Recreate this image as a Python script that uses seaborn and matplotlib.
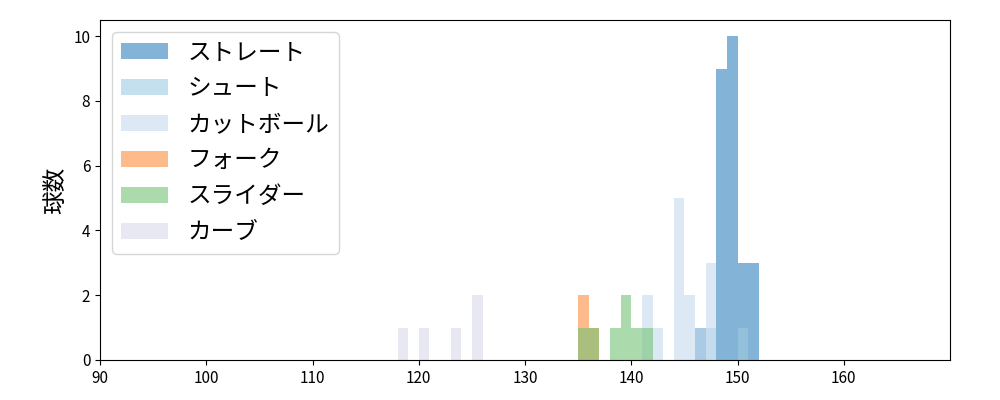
import numpy as np
import seaborn as sns
import matplotlib.pyplot as plt
from matplotlib.patches import Patch

plt.rcParams["font.family"] = ["Noto Sans CJK JP", "DejaVu Sans"]

# pitch types in drawing / legend order
PITCH_TYPES = ["ストレート", "シュート", "カットボール", "フォーク", "スライダー", "カーブ"]
COLORS = ["#3182bd", "#9ecae1", "#c6dbef", "#fd8d3c", "#74c476", "#dadaeb"]

# lower edge of each 1 km/h bin and number of pitches in it
straight_kmh = [146, 148, 149, 150, 151]
straight_cnt = [1, 9, 10, 3, 3]
shoot_kmh = [147, 150]
shoot_cnt = [1, 1]
cutter_kmh = [141, 142, 144, 145, 146, 147]
cutter_cnt = [2, 1, 5, 2, 1, 3]
fork_kmh = [135, 136]
fork_cnt = [2, 1]
slider_kmh = [135, 136, 138, 139, 140, 141]
slider_cnt = [1, 1, 1, 2, 1, 1]
curve_kmh = [118, 120, 123, 125]
curve_cnt = [1, 1, 1, 2]

SERIES = [
    (straight_kmh, straight_cnt),
    (shoot_kmh, shoot_cnt),
    (cutter_kmh, cutter_cnt),
    (fork_kmh, fork_cnt),
    (slider_kmh, slider_cnt),
    (curve_kmh, curve_cnt),
]


def main() -> None:
    fig, ax = plt.subplots(figsize=(10, 4), dpi=100)
    fig.subplots_adjust(left=0.1, right=0.95, top=0.95, bottom=0.1)

    for (kmh, cnt), color in zip(SERIES, COLORS):
        # one value per pitch, placed in the middle of its bin
        speeds = np.repeat(np.array(kmh, dtype=float), cnt) + 0.5
        sns.histplot(
            x=speeds,
            binwidth=1,
            binrange=(110, 160),
            color=color,
            alpha=0.6,
            linewidth=0,
            ax=ax,
        )

    ax.set_xlim(90, 170)
    ax.set_ylim(0, 10.5)
    ax.set_xticks(range(90, 170, 10))
    ax.set_yticks(range(0, 11, 2))
    ax.tick_params(labelsize=11)
    ax.set_xlabel("")
    ax.set_ylabel("球数", fontsize=17)

    handles = [Patch(facecolor=c, alpha=0.6, linewidth=0) for c in COLORS]
    ax.legend(handles, PITCH_TYPES, loc="upper left", fontsize=17, labelspacing=0.55)

    fig.savefig("out.png")
    plt.close(fig)


if __name__ == "__main__":
    main()
